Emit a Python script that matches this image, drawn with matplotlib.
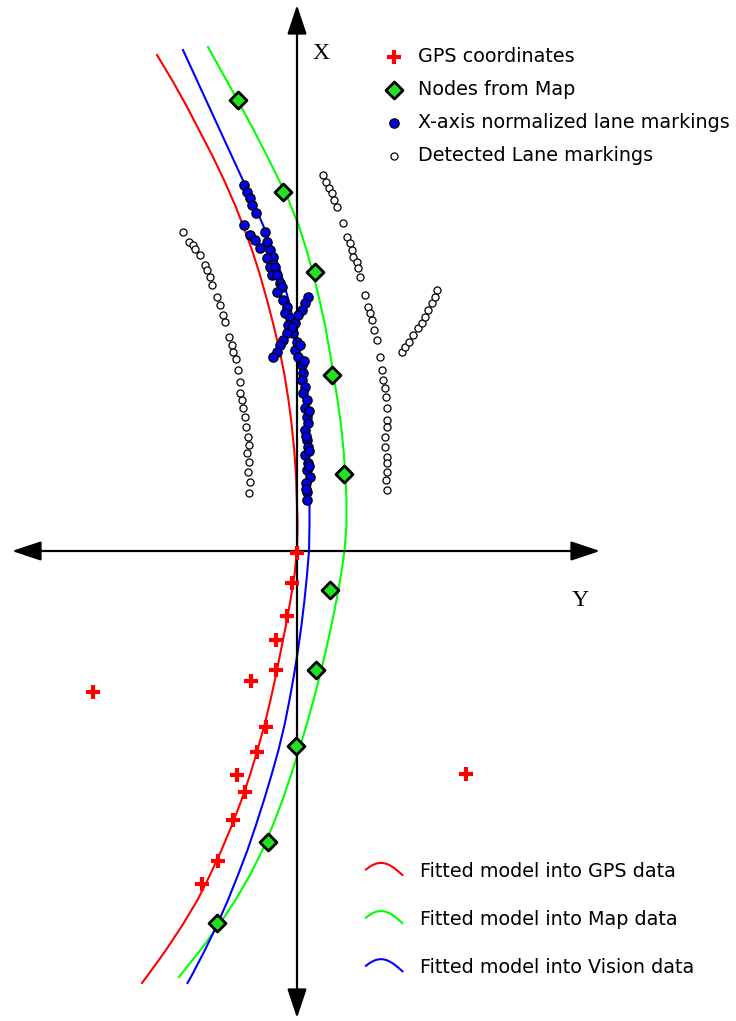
import matplotlib
matplotlib.use("Agg")
import matplotlib.pyplot as plt
import numpy as np
from matplotlib.lines import Line2D
from matplotlib.legend_handler import HandlerBase

# Repere local : lat = axe Y (horizontal), lon = axe X (vertical), origine au croisement
# Courbes ajustees
gps_fit_lat = [-140, -125, -111, -98, -85, -73, -62, -53, -45, -37, -30, -23.5, -17.5, -12.5, -8.5, -5.3, -2.8,
               -1, -0.2, 0.6, 0, -2.5, -6.5, -11, -16, -21, -26.5, -32.5, -39.5, -47, -55.5, -65, -75.5, -87,
               -99.5, -114.5, -131, -149, -155]
gps_fit_lon = [496, 471, 446, 421, 396, 371, 346, 323, 301, 276, 251, 226, 201, 176, 151, 126, 101,
               76, 51, 26, 0, -24, -49, -74, -99, -124, -149, -174, -199, -224, -249, -274, -299, -324,
               -349, -374, -399, -424, -432]

map_fit_lat = [-89, -73.5, -59.5, -46, -33, -20.5, -8.5, 1.5, 9.5, 16.5, 22.5, 28, 32.5, 36.5, 40.5, 44, 46.5,
               48.5, 49.5, 49.5, 47.5, 44, 39.5, 34.5, 29, 23, 16.5, 9.5, 2, -6, -14.5, -24, -34.5, -47,
               -61.5, -78, -96.5, -118]
map_fit_lon = [504, 476, 451, 426, 401, 376, 351, 326, 301, 276, 251, 226, 201, 176, 151, 126, 101,
               76, 51, 26, 0, -24, -49, -74, -99, -124, -149, -174, -199, -224, -249, -274, -299, -324,
               -349, -374, -399, -426]

vis_fit_lat = [-114, -102.5, -91, -79.5, -68, -56.5, -45, -34, -24, -15.5, -8.5, -2.5, 2.5, 6, 8.5, 10.5, 11.5,
               12, 12.5, 12.5, 12, 10, 7.5, 4.5, 1, -3, -7.5, -12.5, -18.5, -25.5, -33, -41, -49.5, -59,
               -69, -80, -92, -105, -109.5]
vis_fit_lon = [501, 476, 451, 426, 401, 376, 351, 326, 301, 276, 251, 226, 201, 176, 151, 126, 101,
               76, 51, 26, 0, -24, -49, -74, -99, -124, -149, -174, -199, -224, -249, -274, -299, -324,
               -349, -374, -399, -424, -432]

# Coordonnees GPS
gps_lat = [0, -5, -10, -21, -21, -46, -31, -40, -60, -52, -64, -79, -95, -204, 169]
gps_lon = [-2, -32, -65, -89, -119, -130, -176, -201, -224, -241, -269, -310, -333, -141, -223]

# Noeuds de la carte
map_lat = [-59, -14, 18, 35, 47, 33, 19, -1, -29, -80]
map_lon = [451, 359, 279, 176, 77, -39, -119, -195, -291, -372]

# Marquages normalises sur l'axe X
norm_lat = [-53, -50, -47, -45, -41, -53, -47, -42, -37, -32, -30, -27, -24, -30, -27, -22, -25, -20,
            -17, -15, -20, -14, -10, -12, -7, -9, -2, -4, 0, -2, 1, 5, 6, 5, 8, 6, 10, 8, 10, 11, 8,
            10, 11, 8, 11, 10, 13, 9, 10, 10, 3, 7, 12, 9, 12, 9, 12,
            11, 8, 5, 1, -5, -10, -14, -17, -20, -24]
norm_lon = [366, 359, 353, 346, 338, 326, 316, 311, 303, 319, 309, 301, 294, 293, 284, 284, 276, 276,
            268, 264, 259, 251, 244, 238, 233, 226, 228, 218, 209, 201, 194, 186, 178, 171, 164, 158, 151, 143, 134, 128, 121,
            111, 104, 96, 88, 81, 74, 68, 59, 51, 206, 190, 140, 115, 100, 62, 85,
            254, 248, 241, 236, 224, 218, 211, 206, 199, 194]

# Marquages detectes
det_lat = [-114, -108, -104, -102, -97, -92, -90, -87, -85, -80, -77, -74, -72, -68, -65, -64, -61, -59, -57, -57,
           -55, -54, -52, -51, -49, -48, -50, -48, -49, -47, -48,
           26, 29, 32, 35, 37, 40, 46, 50, 53, 55, 56, 60, 61, 63, 68, 71, 73, 75, 77, 80, 83, 85, 86, 88, 89,
           90, 90, 90, 88, 88, 90, 90, 90, 89, 90,
           105, 108, 112, 116, 121, 125, 128, 131, 135, 138, 140]
det_lon = [319, 309, 306, 302, 296, 286, 281, 274, 266, 254, 246, 236, 229, 214, 206, 199, 192, 181, 169, 158,
           151, 143, 134, 124, 114, 106, 98, 89, 79, 69, 58,
           376, 369, 363, 358, 351, 344, 328, 314, 308, 301, 294, 289, 283, 274, 256, 244, 238, 231, 221, 211, 194, 181, 171, 163, 154,
           143, 131, 124, 114, 104, 94, 88, 79, 71, 61,
           199, 204, 209, 216, 223, 228, 234, 241, 248, 254, 261]


class ArcHandler(HandlerBase):  # petit arc comme symbole de legende
    def create_artists(self, legend, orig_handle, xdescent, ydescent, width, height, fontsize, trans):
        t = np.linspace(0, 1, 30)
        xs = -xdescent + width * t
        ys = -ydescent + height * (0.15 + 0.9 * np.sin(np.pi * (0.15 + 0.85 * t)))
        line = Line2D(xs, ys, color=orig_handle.get_color(), lw=orig_handle.get_linewidth())
        line.set_transform(trans)
        return [line]


fig = plt.figure(figsize=(7.36, 10.21), dpi=100)
ax = fig.add_axes([0, 0, 1, 1])
ax.set_xlim(-297, 439)
ax.set_ylim(-470, 551)
ax.axis("off")

# Axes avec fleches
arrow = dict(arrowstyle="<|-|>,head_length=0.9,head_width=0.3", color="black", lw=1.6,
             shrinkA=0, shrinkB=0, mutation_scale=20)
ax.annotate("", xy=(0, 546), xytext=(0, -467), arrowprops=arrow)
ax.annotate("", xy=(303, 0), xytext=(-285, 0), arrowprops=arrow)
ax.text(24, 497, "X", family="Liberation Serif", fontsize=17, ha="center", va="center")
ax.text(283, -50, "Y", family="Liberation Serif", fontsize=17, ha="center", va="center")

l_gps, = ax.plot(gps_fit_lat, gps_fit_lon, color="#ff0000", lw=1.5)
l_map, = ax.plot(map_fit_lat, map_fit_lon, color="#00ff00", lw=1.5)
l_vis, = ax.plot(vis_fit_lat, vis_fit_lon, color="#0000ff", lw=1.5)

s_det = ax.scatter(det_lat, det_lon, s=26, facecolors="white", edgecolors="black", linewidths=0.9, zorder=3)
s_norm = ax.scatter(norm_lat, norm_lon, s=45, facecolors="#0000e6", edgecolors="black", linewidths=0.9, zorder=4)
s_map = ax.scatter(map_lat, map_lon, s=75, marker="D", facecolors="#22e022", edgecolors="black", linewidths=2, zorder=5)
s_gps = ax.scatter(gps_lat, gps_lon, s=110, marker="+", color="#ff0000", linewidths=3, zorder=6)

leg1 = ax.legend([s_gps, s_map, s_norm, s_det],
                 ["GPS coordinates", "Nodes from Map", "X-axis normalized lane markings", "Detected Lane markings"],
                 loc="upper left", bbox_to_anchor=(383 / 736, 1 - 47 / 1021), frameon=False, fontsize=13.8,
                 handletextpad=0.65, handlelength=1.2, labelspacing=0.73, borderpad=0, borderaxespad=0,
                 scatterpoints=1)
ax.add_artist(leg1)

ax.legend([l_gps, l_map, l_vis],
          ["Fitted model into GPS data", "Fitted model into Map data", "Fitted model into Vision data"],
          loc="upper left", bbox_to_anchor=(366 / 736, 1 - 862 / 1021), frameon=False, fontsize=13.8,
          handletextpad=0.9, handlelength=1.9, labelspacing=1.52, borderpad=0, borderaxespad=0,
          handler_map={Line2D: ArcHandler()})

fig.savefig("out.png", dpi=100)
